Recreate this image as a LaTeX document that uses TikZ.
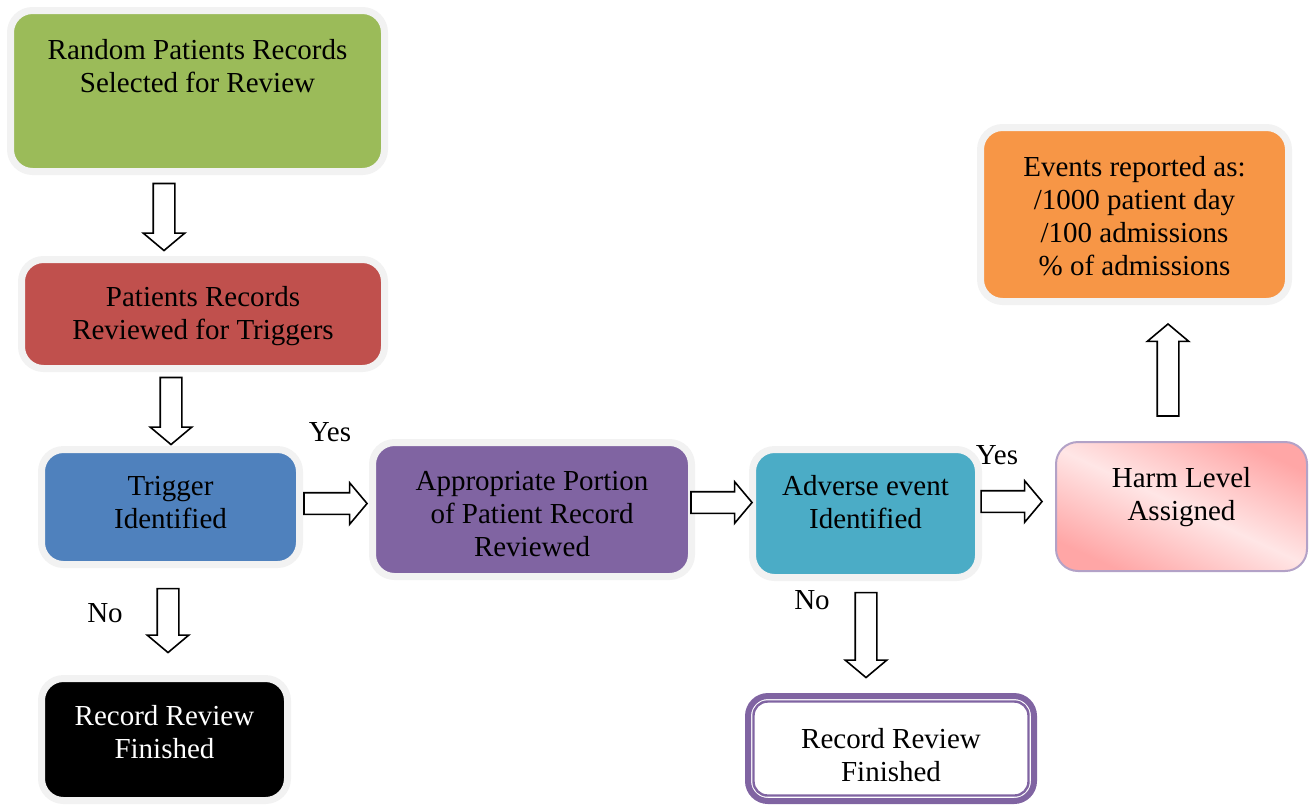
\documentclass[tikz,border=0pt]{standalone}
\usepackage{fontspec}
\setmainfont{Liberation Serif}
\usepackage{tikz}
\usetikzlibrary{shapes.arrows}
\definecolor{ringgray}{RGB}{242,242,242}
\definecolor{colgreen}{RGB}{155,187,89}
\definecolor{colred}{RGB}{192,80,77}
\definecolor{colblue}{RGB}{79,129,189}
\definecolor{colpurple}{RGB}{128,100,162}
\definecolor{colteal}{RGB}{75,172,198}
\definecolor{colorange}{RGB}{247,150,70}
\definecolor{pinkdark}{RGB}{255,166,166}
\definecolor{pinklight}{RGB}{255,230,230}
\definecolor{lavender}{RGB}{179,162,199}
\newcommand{\boxfont}{\fontsize{14.5}{16.5}\selectfont}
\tikzset{
	stepbox/.style={rectangle, rounded corners=11pt, draw=ringgray, line width=3.5pt,
		align=center, font=\boxfont, inner sep=0pt},
	lift/.style={text height=#1, text depth=0pt},
	blockarrow/.style={single arrow, draw=black, fill=white, line width=0.8pt,
		inner sep=0pt, inner ysep=5pt, single arrow head extend=5pt,
		single arrow tip angle=100, minimum height=#1},
	answer/.style={font=\boxfont, inner sep=0pt}
}

\begin{document}
\begin{tikzpicture}[x=0.5pt, y=-0.5pt]
	\useasboundingbox (0,0) rectangle (1309,805);
	\node[stepbox, fill=colgreen, minimum width=187pt, minimum height=80.5pt, lift=1.5pt]
		(select) at (197.5,91) {Random Patients Records\\Selected for Review};
	\node[stepbox, fill=colred, minimum width=181.5pt, minimum height=54.5pt, lift=25.5pt]
		(review) at (203,314) {Patients Records\\Reviewed for Triggers};
	\node[stepbox, fill=colblue, minimum width=129pt, minimum height=57.5pt, lift=21.5pt]
		(trigger) at (170.5,507) {Trigger\\Identified};
	\node[stepbox, fill=colpurple, minimum width=159.5pt, minimum height=67pt, lift=47pt]
		(portion) at (532,509.5) {Appropriate Portion\\of Patient Record\\Reviewed};
	\node[stepbox, fill=colteal, minimum width=113pt, minimum height=64pt, lift=15pt]
		(adverse) at (865.5,513.5) {Adverse event\\Identified};
	\node[stepbox, fill=colorange, minimum width=154pt, minimum height=87pt, lift=61pt]
		(report) at (1134.5,214.5) {Events reported as:\\/1000 patient day\\/100 admissions\\\% of admissions};
	\node[stepbox, fill=black, text=white, minimum width=123pt, minimum height=61pt, lift=19pt]
		(finishA) at (164.5,739.5) {Record Review\\Finished};
	\node[stepbox, draw=lavender, line width=1pt, top color=pinkdark, bottom color=pinkdark,
		middle color=pinklight, shading angle=-25, minimum width=125.5pt, minimum height=64.5pt, lift=14pt]
		(harm) at (1181.5,506.5) {Harm Level\\Assigned};
	\node[stepbox, draw=colpurple, line width=3pt, fill=white, rounded corners=10pt,
		minimum width=143pt, minimum height=52.5pt, lift=33pt]
		(finishB) at (891,748.5) {Record Review\\Finished};
	\draw[colpurple, line width=1.2pt, rounded corners=7pt]
		([shift={(4.25pt,-4.25pt)}]finishB.north west) rectangle ([shift={(-4.25pt,4.25pt)}]finishB.south east);
	\foreach \name/\x/\y/\len/\ang in {a1/164/212.5/33.5/-90, a2/171/406.5/33.5/-90,
		a3/331/503.5/31.5/0, a4/717/502.5/30.5/0, a5/1007/501.5/30.5/0,
		a6/1168/374.5/46/90, a7/168/616/32/-90, a8/866/630.5/42.5/-90} {
		\node[blockarrow=\len pt, rotate=\ang] (\name) at (\x,\y) {};
	}
	\node[answer] (yesA) at (330,432) {Yes};
	\node[answer] (yesB) at (997,455) {Yes};
	\node[answer] (noA) at (105,613) {No};
	\node[answer] (noB) at (812,600) {No};
\end{tikzpicture}
\end{document}
